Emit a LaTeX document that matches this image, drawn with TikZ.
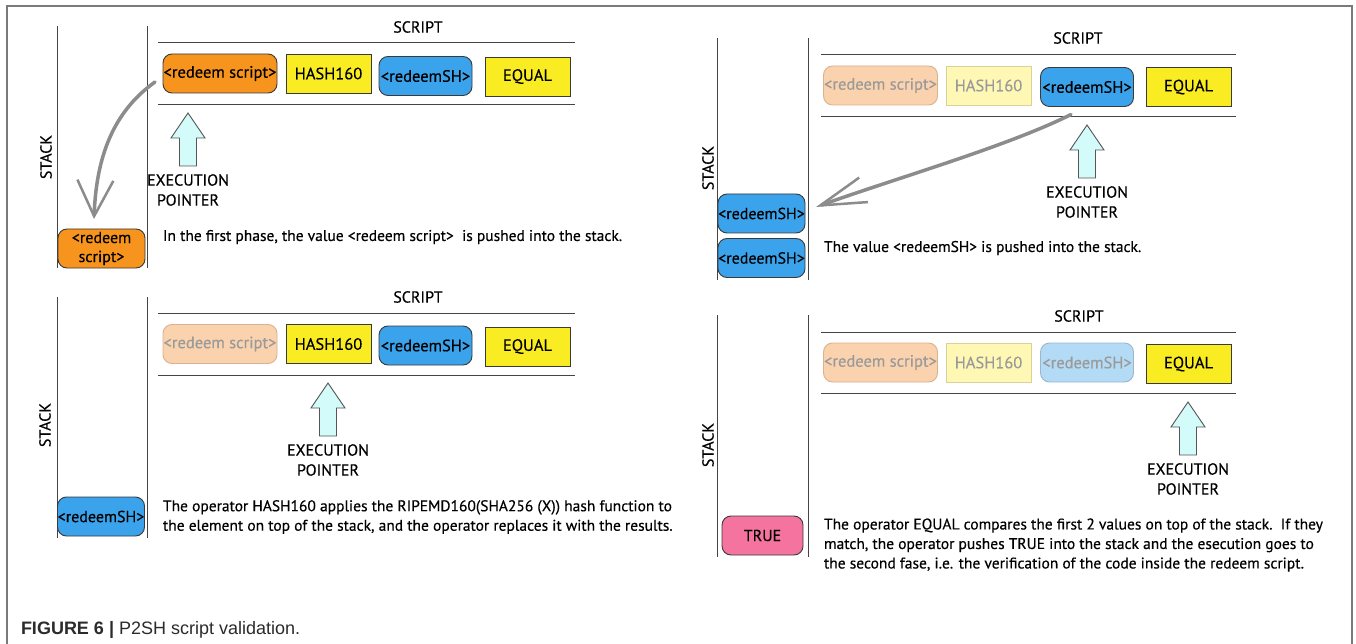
\documentclass[tikz,border=0pt]{standalone}
\usepackage{fontspec}
\setmainfont{PT Sans}[FakeBold=0.35]
\newfontfamily\capfont{Liberation Sans}
\usetikzlibrary{arrows.meta,calc}

\definecolor{frameGray}{HTML}{7A7A7A}
\definecolor{lineGray}{HTML}{444444}
\definecolor{boxEdge}{HTML}{3A3A3A}
\definecolor{opOrange}{HTML}{F7941D}
\definecolor{opYellow}{HTML}{FAEC23}
\definecolor{opBlue}{HTML}{3BA3EC}
\definecolor{opPink}{HTML}{F4739F}
\definecolor{fadeOrange}{HTML}{FAD3AE}
\definecolor{fadeOrangeEdge}{HTML}{D8B28E}
\definecolor{fadeYellow}{HTML}{FFF8B4}
\definecolor{fadeYellowEdge}{HTML}{D9D199}
\definecolor{fadeBlue}{HTML}{B4DBF6}
\definecolor{fadeBlueEdge}{HTML}{98B8CC}
\definecolor{fadeText}{HTML}{9A9A9A}
\definecolor{ptrFill}{HTML}{D2FBFA}
\definecolor{ptrEdge}{HTML}{555555}
\definecolor{pushGray}{HTML}{8C8C8C}
\definecolor{capText}{HTML}{2B2B2B}

\tikzset{
  every node/.style={inner sep=0pt, outer sep=0pt},
  opbox/.style={draw=boxEdge, line width=0.9pt, minimum height=39pt,
    font=\fontsize{16.5}{19}\selectfont, text=black},
  roundop/.style={opbox, rounded corners=9pt},
  redeemop/.style={roundop, fill=opOrange, minimum width=114pt},
  hashop/.style={opbox, fill=opYellow, minimum width=85pt},
  shop/.style={roundop, fill=opBlue, minimum width=93pt},
  equalop/.style={opbox, fill=opYellow, minimum width=85pt},
  faded/.style={text=fadeText},
  redeemfade/.style={redeemop, faded, fill=fadeOrange, draw=fadeOrangeEdge},
  hashfade/.style={hashop, faded, fill=fadeYellow, draw=fadeYellowEdge},
  shfade/.style={shop, faded, fill=fadeBlue, draw=fadeBlueEdge},
  stackitem/.style={roundop, minimum width=87pt, align=center,
    font=\fontsize{16}{19}\selectfont},
  rail/.style={draw=lineGray, line width=1pt},
  title/.style={font=\fontsize{16}{18}\selectfont},
  stacktitle/.style={title, rotate=90},
  ptrarrow/.style={draw=ptrEdge, fill=ptrFill, line width=0.9pt, line join=miter},
  ptrtext/.style={align=center, font=\fontsize{16}{20}\selectfont},
  note/.style={anchor=west, align=left, font=\fontsize{15.5}{19.5}\selectfont},
  push/.style={draw=pushGray, line width=3.5pt, line cap=round},
}

% block arrow marking the execution pointer, with its caption below
\newcommand\execptr[3]{%
  \draw[ptrarrow] (#2,#3) -- ++(17,25) -- ++(-8.5,0) -- ++(0,28) -- ++(-17,0)
    -- ++(0,-28) -- ++(-8.5,0) -- cycle;
  \node[ptrtext] (#1) at (#2,#3+77) {EXECUTION\\POINTER};}

\begin{document}
\begin{tikzpicture}[x=1pt,y=-1pt]
\useasboundingbox (0,0) rectangle (1356,644);
\fill[white] (0,0) rectangle (1356,644);

% outer frame, open at the bottom
\draw[frameGray, line width=1.6pt] (7,644) -- (7,6) -- (1352,6) -- (1352,644);

% ---------- phase 1 ----------
\draw[rail] (57,26) -- (57,268);
\draw[rail] (147,26) -- (147,268);
\node[stacktitle] (stackA) at (46,157) {STACK};
\node[title] (scriptA) at (418,27) {SCRIPT};
\draw[rail] (158,43) -- (575,43);
\draw[rail] (158,105) -- (575,105);
\node[redeemop] (a1) at (220,73.5) {<redeem script>};
\node[hashop] (a2) at (328.5,73.5) {HASH160};
\node[shop] (a3) at (425.5,76) {<redeemSH>};
\node[equalop] (a4) at (527.5,76.5) {EQUAL};
\execptr{ptrA}{188}{113}
\node[stackitem, fill=opOrange] (sa1) at (101.5,248.5) {<redeem\\script>};
\node[note] (noteA) at (163,237) {In the first phase, the value <redeem script>\ \ is pushed into the stack.};
\draw[push, -{Straight Barb[length=36pt,width=36pt,line width=2.5pt]}]
  ($(a1.west)+(-8,8.5)$) .. controls ($(a1.west)+(-45,35)$) and ($(sa1.north)+(-5,-80)$) .. ($(sa1.north)+(-7.5,-10)$);

% ---------- phase 2 ----------
\draw[rail] (717,38) -- (717,280);
\draw[rail] (808,38) -- (808,280);
\node[stacktitle] (stackB) at (708,168) {STACK};
\node[title] (scriptB) at (1078,38) {SCRIPT};
\draw[rail] (821,55) -- (1236,55);
\draw[rail] (821,117) -- (1236,117);
\node[redeemfade] (b1) at (880.5,85.5) {<redeem script>};
\node[hashfade] (b2) at (988.5,85.5) {HASH160};
\node[shop] (b3) at (1087,87) {<redeemSH>};
\node[equalop] (b4) at (1188.5,87) {EQUAL};
\execptr{ptrB}{1087}{125}
\node[stackitem, fill=opBlue] (sb1) at (761.5,213.5) {<redeemSH>};
\node[stackitem, fill=opBlue] (sb2) at (761.5,258) {<redeemSH>};
\node[note] (noteB) at (824,248) {The value <redeemSH> is pushed into the stack.};
\draw[push, -{Straight Barb[length=46pt,width=26pt,line width=2.5pt]}]
  ($(b3.south)+(-16,8)$) .. controls ($(b3.south)+(-80,40)$) and ($(sb1.east)+(90,-35)$) .. ($(sb1.east)+(11,-6.5)$);

% ---------- phase 3 ----------
\draw[rail] (57,297) -- (57,538);
\draw[rail] (147,297) -- (147,538);
\node[stacktitle] (stackC) at (45,425) {STACK};
\node[title] (scriptC) at (418,297) {SCRIPT};
\draw[rail] (158,313) -- (575,313);
\draw[rail] (158,375) -- (575,375);
\node[redeemfade] (c1) at (220,344) {<redeem script>};
\node[hashop] (c2) at (328.5,344) {HASH160};
\node[shop] (c3) at (425.5,345.5) {<redeemSH>};
\node[equalop] (c4) at (527.5,346.5) {EQUAL};
\execptr{ptrC}{328}{383}
\node[stackitem, fill=opBlue] (sc1) at (101,516.5) {<redeemSH>};
\node[note] (noteC) at (163,517) {The operator HASH160 applies the RIPEMD160(SHA256 (X)) hash function to\\the element on top of the stack, and the operator replaces it with the results.};

% ---------- phase 4 ----------
\draw[rail] (717,315) -- (717,557);
\draw[rail] (808,315) -- (808,557);
\node[stacktitle] (stackD) at (708,445) {STACK};
\node[title] (scriptD) at (1079,316) {SCRIPT};
\draw[rail] (821,332) -- (1236,332);
\draw[rail] (821,393) -- (1236,393);
\node[redeemfade] (d1) at (880.5,362.5) {<redeem script>};
\node[hashfade] (d2) at (988.5,362.5) {HASH160};
\node[shfade] (d3) at (1087,362.5) {<redeemSH>};
\node[equalop] (d4) at (1188.5,364) {EQUAL};
\execptr{ptrD}{1188}{402}
\node[stackitem, fill=opPink, minimum width=81pt] (sd1) at (762.5,535.5) {TRUE};
\node[note] (noteD) at (824,545) {The operator EQUAL compares the first 2 values on top of the stack.\ \ If they\\match, the operator pushes TRUE into the stack and the esecution goes to\\the second fase, i.e. the verification of the code inside the redeem script.};

% ---------- caption ----------
\node[anchor=base west, font=\capfont\fontsize{18}{20}\selectfont, text=capText] (caption) at (21,634)
  {\textbf{FIGURE 6 |} P2SH script validation.};
\end{tikzpicture}
\end{document}
